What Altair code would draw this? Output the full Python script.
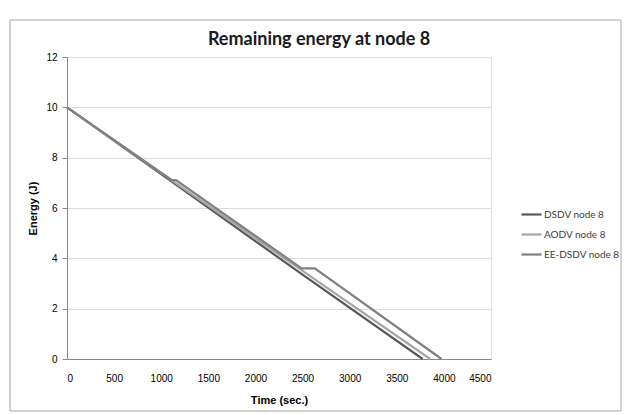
import altair as alt
import pandas as pd

series_names = ["DSDV node 8", "AODV node 8", "EE-DSDV node 8"]
colors = ["#595959", "#a6a6a6", "#808080"]

dsdv_time = [0, 1130, 2500, 3775]
dsdv_energy = [10, 7.0, 3.35, 0]
aodv_time = [0, 1130, 2500, 3855]
aodv_energy = [10, 7.05, 3.5, 0]
ee_time = [0, 1110, 1160, 2490, 2630, 3975]
ee_energy = [10, 7.12, 7.1, 3.6, 3.6, 0]

rows = []
for name, ts, es in [(series_names[0], dsdv_time, dsdv_energy),
                     (series_names[1], aodv_time, aodv_energy),
                     (series_names[2], ee_time, ee_energy)]:
    for i, (t, e) in enumerate(zip(ts, es)):
        rows.append({"series": name, "time": t, "energy": e, "order": i})
df = pd.DataFrame(rows)

W, H = 424, 302
font = "Lato"

frame = alt.Chart(pd.DataFrame({"a": [0]})).mark_rect(
    fill="transparent", stroke="#a6a6a6", strokeWidth=1, clip=False
).encode(
    x=alt.value(-57), x2=alt.value(W + 130), y=alt.value(-37), y2=alt.value(H + 52)
)

lines = alt.Chart(df).mark_line(strokeWidth=2.2).encode(
    x=alt.X("time:Q", scale=alt.Scale(domain=[0, 4500]),
            axis=alt.Axis(values=list(range(0, 4501, 500)), title="Time (sec.)", format="d",
                          grid=False, tickSize=0, labelPadding=14, titlePadding=11)),
    y=alt.Y("energy:Q", scale=alt.Scale(domain=[0, 12]),
            axis=alt.Axis(values=list(range(0, 13, 2)), title="Energy (J)",
                          grid=True, tickSize=5, labelPadding=5, titlePadding=7)),
    color=alt.Color("series:N", sort=series_names,
                    scale=alt.Scale(domain=series_names, range=colors),
                    legend=alt.Legend(title=None, orient="none", legendX=453, legendY=146,
                                      symbolType="stroke", symbolSize=400,
                                      symbolStrokeWidth=2.2, labelFont=font,
                                      labelFontSize=10, labelColor="#404040",
                                      rowPadding=3, labelOffset=1)),
    order="order:Q",
)

chart = alt.layer(frame, lines).properties(
    width=W, height=H,
    title=alt.TitleParams("Remaining energy at node 8", font=font, fontSize=18,
                          fontWeight="bold", color="#1a1a1a", anchor="middle",
                          dx=40, offset=-29),
    autosize=alt.AutoSizeParams(type="none"),
    padding={"left": 67, "top": 57, "right": 135, "bottom": 56},
).configure_view(stroke=None).configure_axis(
    labelFont=font, labelFontSize=10, labelColor="#595959",
    titleFont=font, titleFontSize=9.5, titleFontWeight="bold", titleColor="#262626",
    domainColor="#bfbfbf", tickColor="#bfbfbf", gridColor="#d9d9d9",
).configure(background="white")

chart.save("out.html", embed_options={"renderer": "svg", "actions": False})
